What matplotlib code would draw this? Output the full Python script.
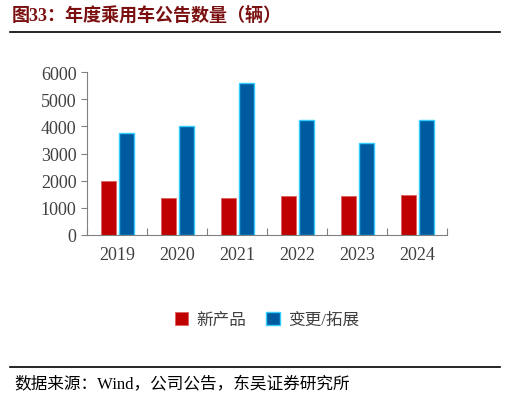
import matplotlib
matplotlib.use("Agg")
import matplotlib.pyplot as plt
import numpy as np

years = ["2019", "2020", "2021", "2022", "2023", "2024"]
new_products = [1980, 1360, 1370, 1450, 1450, 1470]
changes = [3760, 4000, 5580, 4250, 3400, 4250]
yticks = [0, 1000, 2000, 3000, 4000, 5000, 6000]

fam = ['Liberation Serif', 'Noto Sans CJK SC']
plt.rcParams['font.family'] = fam

fig = plt.figure(figsize=(5.09, 4.02), dpi=100)
W, H = 509, 402
ax = fig.add_axes([87/W, 1-236/H, (447-87)/W, (236-73)/H])

x = np.arange(len(years))
w = 0.25
ax.bar(x - 0.15, new_products, w, color='#C00000', edgecolor='#E06060', linewidth=0.6, label='新产品')
ax.bar(x + 0.15, changes, w, color='#005A9E', edgecolor='#33CCFF', linewidth=1.0, label='变更/拓展')

ax.set_xlim(-0.5, len(years) - 0.5)
ax.set_ylim(0, 6000)
ax.set_yticks(yticks)
ax.set_xticks(np.arange(len(years) + 1) - 0.5, minor=False)
ax.set_xticklabels([])
ax.set_xticks(x, minor=True)
ax.set_xticklabels(years, minor=True)
ax.tick_params(axis='x', which='minor', length=0, labelsize=13, colors='#404040', pad=8)
ax.tick_params(axis='x', which='major', length=5, direction='in', color='#808080')
ax.tick_params(axis='y', labelsize=13, colors='#404040', length=4, direction='out', color='#808080')
for s in ['top', 'right']:
    ax.spines[s].set_visible(False)
for s in ['left', 'bottom']:
    ax.spines[s].set_color('#808080')

ax.legend(loc='upper center', bbox_to_anchor=(0.5, -0.38), ncol=2, frameon=False,
          fontsize=12, handlelength=0.8, handleheight=0.8, columnspacing=1.2,
          handletextpad=0.5, labelcolor='#404040')

fig.text(12/W, 1-16/H, '图33：年度乘用车公告数量（辆）', fontsize=13, fontweight='bold',
         color='#7A1010', va='center', family=fam)
fig.add_artist(plt.Line2D([10/W, 500/W], [1-33/H, 1-33/H], color='black', linewidth=1.2))
fig.add_artist(plt.Line2D([10/W, 500/W], [1-368/H, 1-368/H], color='black', linewidth=1.2))
fig.text(14/W, 1-385/H, '数据来源：Wind，公司公告，东吴证券研究所', fontsize=12,
         va='center', color='black', family=fam)

fig.savefig('out.png', dpi=100)
